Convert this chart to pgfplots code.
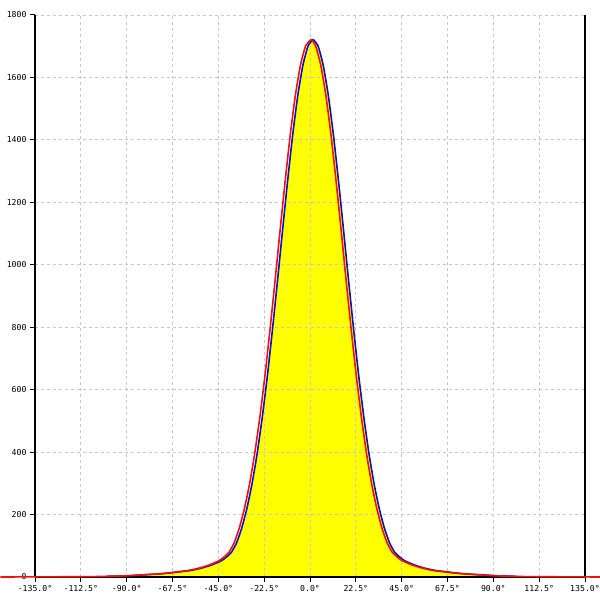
\documentclass[border=0pt]{standalone}
\usepackage{pgfplots}
\pgfplotsset{compat=1.18}
\usepackage{pgfplotstable}
\usepackage{fontspec}
\setmonofont{DejaVu Sans Mono}
\definecolor{dblue}{HTML}{1010C0}
\definecolor{fitred}{HTML}{F01010}
\definecolor{fillyellow}{HTML}{FFFF00}
\pgfplotstableread{
x y
-100 2
-93.5 3
-88.5 4
-83.5 6
-78.5 8
-73.5 10
-68.5 13
-63.5 17
-58.5 21
-53.5 28
-48.5 38
-43.5 52
-41 64
-38.5 80
-36 110
-33.5 157
-31 219
-28.5 297
-26 393
-23.5 508
-21 640
-18.5 788
-16 946
-13.5 1109
-11 1268
-8.5 1416
-6 1542
-3.5 1639
-1 1700
1.5 1721
4 1700
6.5 1639
9 1542
11.5 1416
14 1268
16.5 1109
19 946
21.5 788
24 640
26.5 508
29 393
31.5 297
34 219
36.5 157
39 110
41.5 80
44 64
46.5 52
51.5 38
56.5 28
61.5 21
66.5 17
71.5 13
76.5 10
81.5 8
86.5 6
91.5 4
96.5 3
101.5 2
}\bluedata
\pgfplotstableread{
x y
-152 0
-110 1
-101.2 2
-94.7 3
-89.7 4
-84.7 6
-79.7 8
-74.7 10
-69.7 13
-64.7 17
-59.7 21
-54.7 28
-49.7 38
-44.7 52
-42.2 64
-39.7 80
-37.2 110
-34.7 157
-32.2 219
-29.7 297
-27.2 393
-24.7 508
-22.2 640
-19.7 788
-17.2 946
-14.7 1109
-12.2 1268
-9.7 1416
-7.2 1542
-4.7 1639
-2.2 1700
0.6 1721
2.8 1700
5.3 1639
7.8 1542
10.3 1416
12.8 1268
15.3 1109
17.8 946
20.3 788
22.8 640
25.3 508
27.8 393
30.3 297
32.8 219
35.3 157
37.8 110
40.3 80
42.8 64
45.3 52
50.3 38
55.3 28
60.3 21
65.3 17
70.3 13
75.3 10
80.3 8
85.3 6
90.3 4
95.3 3
100.3 2
110 1
143 0
}\reddata
\begin{document}
\begin{tikzpicture}
\begin{axis}[
  set layers,
  at={(35bp,23bp)}, anchor=south west,
  scale only axis, width=550bp, height=562bp,
  xmin=-135, xmax=135, ymin=0, ymax=1800,
  xtick={-135,-112.5,-90,-67.5,-45,-22.5,0,22.5,45,67.5,90,112.5,135},
  xticklabels={-135.0°,-112.5°,-90.0°,-67.5°,-45.0°,-22.5°,0.0°,22.5°,45.0°,67.5°,90.0°,112.5°,135.0°},
  ytick={0,200,400,600,800,1000,1200,1400,1600,1800},
  yticklabels={0,200,400,600,800,1000,1200,1400,1600,1800},
  grid=major,
  grid style={dash pattern=on 3bp off 3bp, color=black!22, line width=0.8bp},
  axis line style={draw=none},
  tick pos=left,
  tick align=outside,
  major tick length=5bp,
  tick style={black, line width=1bp},
  tick label style={font=\fontsize{8.2}{9}\selectfont\ttfamily, text=black},
  clip=false,
]
\addplot[fill=fillyellow, draw=none, on layer=axis background] table {\bluedata} \closedcycle;
\draw[black, line width=1.3bp] (rel axis cs:0,0) -- (rel axis cs:0,1);
\draw[black, line width=1.3bp] (rel axis cs:1,0) -- (rel axis cs:1,1);
\draw[black, line width=1.3bp] (rel axis cs:0,0) -- (rel axis cs:1,0);
\addplot[dblue, line width=1.6bp, smooth, tension=0.3] table {\bluedata};
\addplot[fitred, line width=1.6bp, smooth, tension=0.3] table {\reddata};
\end{axis}
\pgfresetboundingbox
\path (0,0) rectangle (600bp,600bp);
\end{tikzpicture}
\end{document}
